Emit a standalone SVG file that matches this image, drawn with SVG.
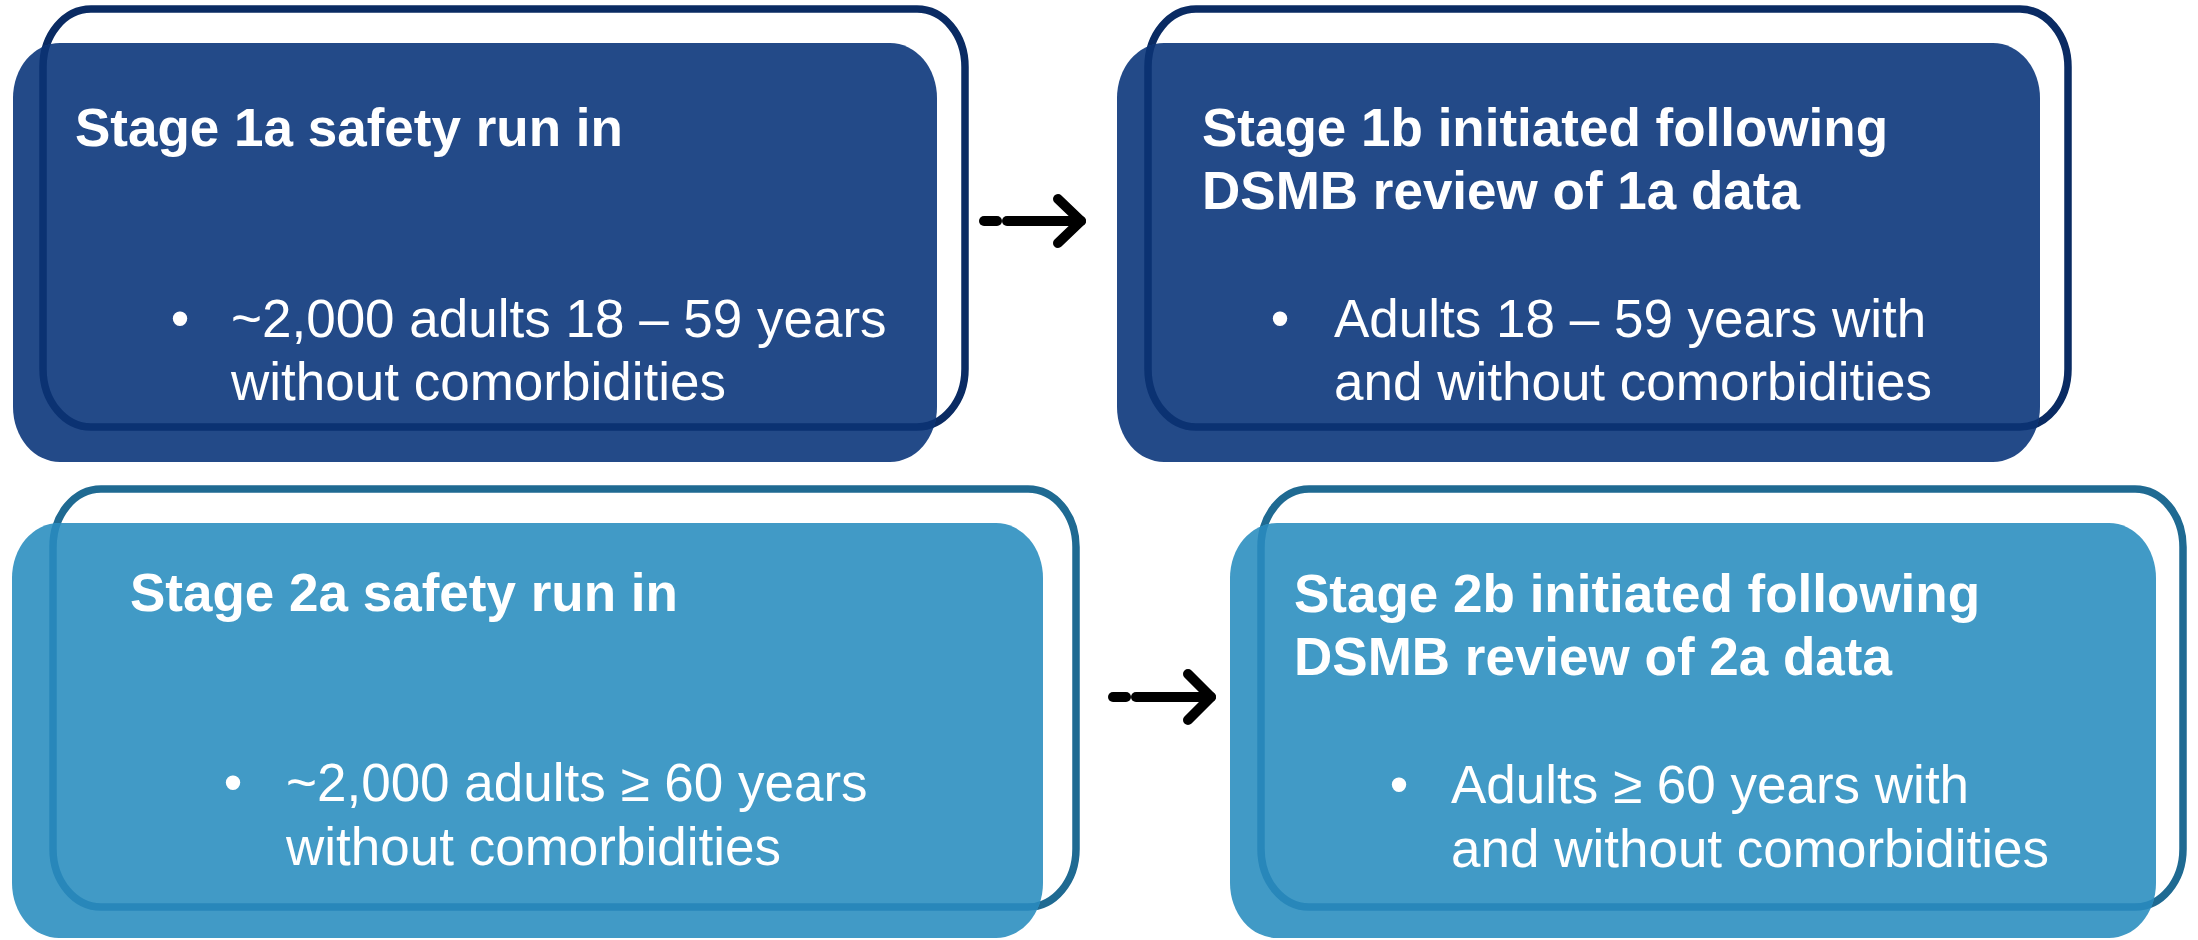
<svg xmlns="http://www.w3.org/2000/svg" width="2198" height="940" viewBox="0 0 2198 940">
<style>
.t{font-family:"Liberation Sans",Arial,sans-serif;font-size:53px;fill:#ffffff}
.b{font-weight:bold}
.o1{fill:#ffffff;stroke:#0a2b63;stroke-width:7.5}
.o1s{fill:none;stroke:#0b3272;stroke-width:7.5}
.f1{fill:#234a88}
.o2{fill:#ffffff;stroke:#1f6a92;stroke-width:7.5}
.o2s{fill:none;stroke:#2887ba;stroke-width:7.5}
.f2{fill:#419ac6}
.arr{fill:none;stroke:#000000;stroke-width:10;stroke-linecap:round;stroke-linejoin:round}
</style>
<defs>
<clipPath id="c1a"><rect x="13" y="43" width="924" height="419" rx="47" ry="55"/></clipPath>
<clipPath id="c1b"><rect x="1117" y="43" width="923" height="419" rx="47" ry="55"/></clipPath>
<clipPath id="c2a"><rect x="12" y="523" width="1031" height="415" rx="47" ry="55"/></clipPath>
<clipPath id="c2b"><rect x="1230" y="523" width="926" height="415" rx="47" ry="55"/></clipPath>
</defs>
<rect width="2198" height="940" fill="#ffffff"/>
<g id="stage1a">
<rect class="o1" x="43" y="9" width="922" height="418" rx="48" ry="58"/>
<rect class="f1" x="13" y="43" width="924" height="419" rx="47" ry="55"/>
<rect class="o1s" x="43" y="9" width="922" height="418" rx="48" ry="58" clip-path="url(#c1a)"/>
<text class="t b" x="75" y="146">Stage 1a safety run in</text>
<text class="t" x="180" y="337" text-anchor="middle">•</text>
<text class="t" x="231" y="337">~2,000 adults 18 – 59 years</text>
<text class="t" x="231" y="400">without comorbidities</text>
</g>
<g id="stage1b">
<rect class="o1" x="1148" y="9" width="920" height="418" rx="48" ry="58"/>
<rect class="f1" x="1117" y="43" width="923" height="419" rx="47" ry="55"/>
<rect class="o1s" x="1148" y="9" width="920" height="418" rx="48" ry="58" clip-path="url(#c1b)"/>
<text class="t b" x="1202" y="146">Stage 1b initiated following</text>
<text class="t b" x="1202" y="209">DSMB review of 1a data</text>
<text class="t" x="1280" y="337" text-anchor="middle">•</text>
<text class="t" x="1334" y="337">Adults 18 – 59 years with</text>
<text class="t" x="1334" y="400">and without comorbidities</text>
</g>
<g id="stage2a">
<rect class="o2" x="53" y="489" width="1023" height="418" rx="48" ry="58"/>
<rect class="f2" x="12" y="523" width="1031" height="415" rx="47" ry="55"/>
<rect class="o2s" x="53" y="489" width="1023" height="418" rx="48" ry="58" clip-path="url(#c2a)"/>
<text class="t b" x="130" y="611">Stage 2a safety run in</text>
<text class="t" x="233" y="801" text-anchor="middle">•</text>
<text class="t" x="286" y="801">~2,000 adults ≥ 60 years</text>
<text class="t" x="286" y="865">without comorbidities</text>
</g>
<g id="stage2b">
<rect class="o2" x="1261" y="489" width="922" height="418" rx="48" ry="58"/>
<rect class="f2" x="1230" y="523" width="926" height="415" rx="47" ry="55"/>
<rect class="o2s" x="1261" y="489" width="922" height="418" rx="48" ry="58" clip-path="url(#c2b)"/>
<text class="t b" x="1294" y="612">Stage 2b initiated following</text>
<text class="t b" x="1294" y="675">DSMB review of 2a data</text>
<text class="t" x="1399" y="803" text-anchor="middle">•</text>
<text class="t" x="1451" y="803">Adults ≥ 60 years with</text>
<text class="t" x="1451" y="867">and without comorbidities</text>
</g>
<g id="connectors">
<line class="arr" x1="984" y1="221" x2="997" y2="221"/>
<line class="arr" x1="1007" y1="221" x2="1081" y2="221"/>
<polyline class="arr" points="1058,199 1081,221 1058,243"/>
<line class="arr" x1="1113" y1="697" x2="1126" y2="697"/>
<line class="arr" x1="1136" y1="697" x2="1211" y2="697"/>
<polyline class="arr" points="1188,674 1211,697 1188,720"/>
</g>
</svg>
